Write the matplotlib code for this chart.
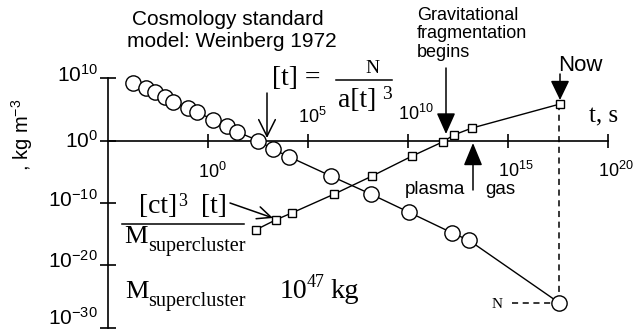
import matplotlib
matplotlib.use('Agg')
import numpy as np
import matplotlib.pyplot as plt
from matplotlib.lines import Line2D
from matplotlib.ticker import NullLocator

plt.rcParams['font.family'] = 'Liberation Sans'
plt.rcParams['mathtext.fontset'] = 'custom'
plt.rcParams['mathtext.rm'] = 'Liberation Sans'
plt.rcParams['mathtext.it'] = 'Liberation Sans:italic'
plt.rcParams['mathtext.bf'] = 'Liberation Sans:bold'

# Density vs time as log10 values.
circle_t_exp = [-3.75, -3.1, -2.65, -2.15, -1.75, -1.0, -0.55, 0.25, 0.95, 1.45,
                2.5, 3.25, 4.05, 6.15, 8.15, 10.05, 12.2, 13.05, 17.55]
circle_rho_exp = [9.2, 8.4, 7.8, 7.0, 6.2, 5.2, 4.6, 3.3, 2.3, 1.4,
                  0.0, -1.4, -2.6, -5.7, -8.6, -11.5, -14.8, -16.0, -26.0]

square_t_exp = [2.4, 3.4, 4.2, 6.3, 8.2, 10.2, 11.75, 12.3, 13.2, 17.6]
square_rho_exp = [-14.3, -12.7, -11.6, -8.6, -5.7, -2.5, -0.2, 0.9, 2.0, 5.85]

x_tick_exp = [0, 5, 10, 15, 20]
x_tick_labels = ['$10^{0}$', '$10^{5}$', '$10^{10}$', '$10^{15}$', '$10^{20}$']
y_tick_exp = [10, 0, -10, -20, -30]
y_tick_labels = ['$10^{10}$', '$10^{0}$', '$10^{-10}$', '$10^{-20}$', '$10^{-30}$']

# layout
W, H = 634, 331
X_LO, X_HI = -10.4, 21.3
Y_LO, Y_HI = -30.53, 22.52
x_label_dy = [-37, 18, 21, -36, -36]
y_label_dy = [-4, -7, -4, -3, 3]
SERIF = 'Liberation Serif'


def fp(x, y):
    # pixel position in the reference -> figure fraction
    return (x / W, 1 - y / H)


def hline(x1, x2, y, fig):
    fig.add_artist(Line2D([x1 / W, x2 / W], [1 - y / H, 1 - y / H],
                          transform=fig.transFigure, color='black', lw=1.1))


def arrow(ax, tail, tip, style):
    ax.annotate('', xy=fp(*tip), xytext=fp(*tail),
                xycoords='figure fraction', textcoords='figure fraction',
                arrowprops=dict(arrowstyle=style, mutation_scale=10, color='black',
                                lw=1.1, shrinkA=0, shrinkB=0))


fig = plt.figure(figsize=(W / 100, H / 100), dpi=100)
ax = fig.add_axes([0, 0, 1, 1])
ax.set_xscale('log')
ax.set_yscale('log')
ax.set_xlim(10 ** X_LO, 10 ** X_HI)
ax.set_ylim(10 ** Y_LO, 10 ** Y_HI)

circle_t = 10.0 ** np.array(circle_t_exp)
circle_rho = 10.0 ** np.array(circle_rho_exp)
square_t = 10.0 ** np.array(square_t_exp)
square_rho = 10.0 ** np.array(square_rho_exp)

ax.plot(circle_t, circle_rho, '-o', color='black', lw=1.0, ms=11, mew=1.0,
        mfc='white', zorder=3)
ax.plot(square_t, square_rho, '-s', color='black', lw=1.0, ms=6, mew=1.0,
        mfc='white', zorder=3)

# dashed guides to the last point
ax.plot([circle_t[-1], circle_t[-1]], [square_rho[-1], circle_rho[-1]],
        color='black', lw=1.1, dashes=(4, 3), zorder=1)
ax.plot([10 ** 15.2, circle_t[-1]], [circle_rho[-1], circle_rho[-1]],
        color='black', lw=1.1, dashes=(4, 3), zorder=1)

# crossing axes
for s in ['top', 'right']:
    ax.spines[s].set_visible(False)
ax.spines['left'].set_position(('data', 1e-5))
ax.spines['bottom'].set_position(('data', 1.0))
ax.spines['left'].set_bounds(1e-30, 1e10)
ax.spines['bottom'].set_bounds(1e-5, 1e20)
ax.spines['left'].set_linewidth(1.2)
ax.spines['bottom'].set_linewidth(1.2)

ax.set_xticks(10.0 ** np.array(x_tick_exp), labels=[''] * len(x_tick_exp))
ax.set_yticks(10.0 ** np.array(y_tick_exp, dtype=float), labels=[''] * len(y_tick_exp))
ax.xaxis.set_minor_locator(NullLocator())
ax.yaxis.set_minor_locator(NullLocator())
ax.tick_params(axis='x', direction='inout', length=10, width=1.2)
ax.tick_params(axis='y', direction='inout', length=12, width=1.2)

for e, lab, dy in zip(x_tick_exp, x_tick_labels, x_label_dy):
    ax.annotate(lab, xy=(10.0 ** e, 1.0), xytext=(-10, dy), textcoords='offset pixels',
                ha='left', va='baseline', fontsize=13)
for e, lab, dy in zip(y_tick_exp, y_tick_labels, y_label_dy):
    ax.annotate(lab, xy=(1e-5, 10.0 ** e), xytext=(-10, dy), textcoords='offset pixels',
                ha='right', va='baseline', fontsize=15)

fig.text(*fp(22, 135), r', kg m$^{-3}$', rotation=90, ha='center', va='center',
         fontsize=14.5)
fig.text(*fp(604, 122), 't, s', family=SERIF, ha='center', va='baseline', fontsize=18)

# captions
fig.text(*fp(228, 25), 'Cosmology standard', ha='center', va='baseline', fontsize=15)
fig.text(*fp(232, 47), 'model: Weinberg 1972', ha='center', va='baseline', fontsize=15)
for i, line in enumerate(['Gravitational', 'fragmentation', 'begins']):
    fig.text(*fp(417, 20 + 18.5 * i), line, ha='left', va='baseline', fontsize=13)
fig.text(*fp(558, 71), 'Now', ha='left', va='baseline', fontsize=16)
fig.text(*fp(405, 194), 'plasma', ha='left', va='baseline', fontsize=13.5)
fig.text(*fp(485, 194), 'gas', ha='left', va='baseline', fontsize=13.5)
fig.text(*fp(492, 308), 'N', family=SERIF, ha='left', va='baseline', fontsize=11)

# [t] = N / a[t]^3
fig.text(*fp(272, 85), '[t] =', family=SERIF, ha='left', va='baseline', fontsize=20)
fig.text(*fp(372, 73), 'N', family=SERIF, ha='center', va='baseline', fontsize=14)
hline(336, 392, 80, fig)
fig.text(*fp(338, 107), 'a[t]', family=SERIF, ha='left', va='baseline', fontsize=20)
fig.text(*fp(382, 99), '3', family=SERIF, ha='left', va='baseline', fontsize=14)

# [ct]^3 [t] / M_supercluster
fig.text(*fp(139, 213), '[ct]', family=SERIF, ha='left', va='baseline', fontsize=20)
fig.text(*fp(178, 206), '3', family=SERIF, ha='left', va='baseline', fontsize=13)
fig.text(*fp(201, 213), '[t]', family=SERIF, ha='left', va='baseline', fontsize=20)
hline(122, 244, 224, fig)
fig.text(*fp(124, 243), 'M', family=SERIF, ha='left', va='baseline', fontsize=19)
fig.text(*fp(148, 251), 'supercluster', family=SERIF, ha='left', va='baseline', fontsize=14.5)

# M_supercluster 10^47 kg
fig.text(*fp(125, 298), 'M', family=SERIF, ha='left', va='baseline', fontsize=19)
fig.text(*fp(148, 306), 'supercluster', family=SERIF, ha='left', va='baseline', fontsize=14.5)
fig.text(*fp(280, 298), '10', family=SERIF, ha='left', va='baseline', fontsize=20)
fig.text(*fp(307, 287), '47', family=SERIF, ha='left', va='baseline', fontsize=13)
fig.text(*fp(330, 298), 'kg', family=SERIF, ha='left', va='baseline', fontsize=20.5)

# arrows
arrow(ax, (267, 93), (267, 138), '->,head_length=1.2,head_width=0.6')
arrow(ax, (230, 203), (273, 218), '->,head_length=1.0,head_width=0.45')
arrow(ax, (446, 68), (446, 134), '-|>,head_length=1.3,head_width=0.58')
arrow(ax, (560, 74), (560, 100), '-|>,head_length=1.2,head_width=0.58')
arrow(ax, (473, 190), (473, 143), '-|>,head_length=1.4,head_width=0.58')

fig.savefig('out.png', dpi=100)
